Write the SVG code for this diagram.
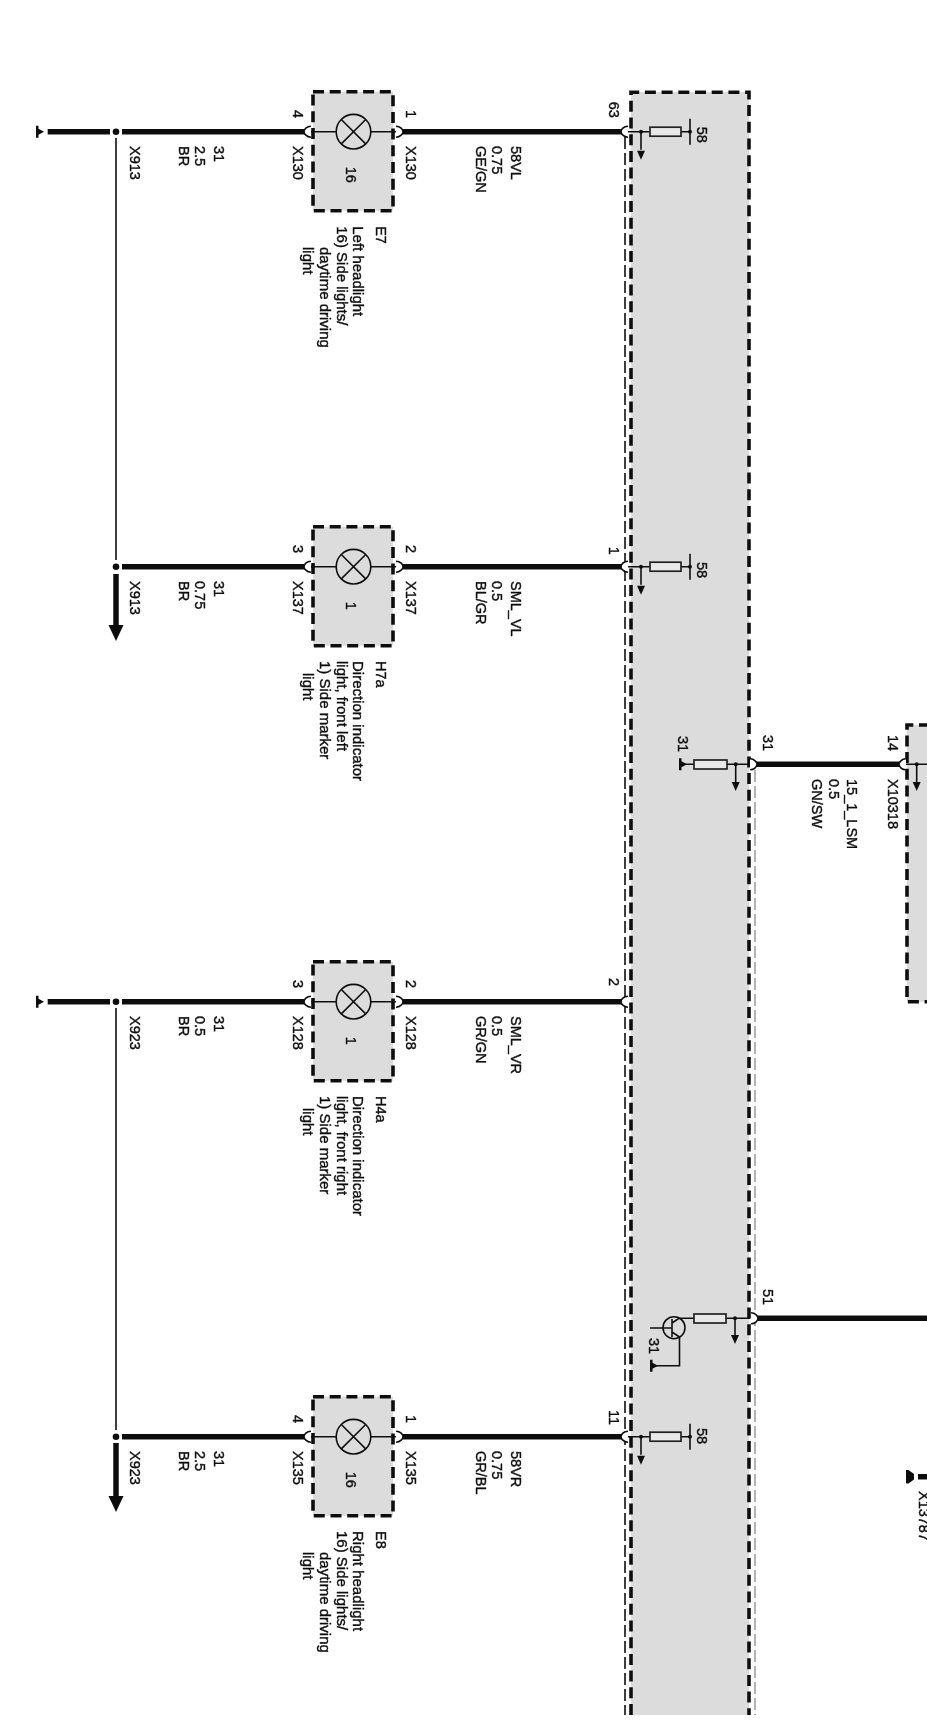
<svg xmlns="http://www.w3.org/2000/svg" xmlns:xlink="http://www.w3.org/1999/xlink" width="927" height="1725" viewBox="0 0 927 1725">
<style>
text{font-family:"Liberation Sans",Arial,sans-serif;font-size:14.5px;fill:#111;stroke:#111;stroke-width:.4px}
.d{font-size:15px}
.box{fill:#dcdcdc;stroke:#111;stroke-width:3.6;stroke-dasharray:11 5.700}
.fill{fill:#dcdcdc;stroke:none}
.bd{fill:none;stroke:#111;stroke-width:3.6;stroke-dasharray:11 5.700}
.t{fill:none;stroke:#111;stroke-width:1.6}
.w{fill:none;stroke:#111;stroke-width:5.5}
.res{fill:#e8e8e8;stroke:#222;stroke-width:1.7}
.k{fill:#111;stroke:none}
.pin{fill:#fff;stroke:#111;stroke-width:1.6}
.soft{filter:url(#b)}
</style>
<defs>
<filter id="b" x="0" y="0" width="927" height="1725" filterUnits="userSpaceOnUse"><feGaussianBlur stdDeviation="0.6"/></filter>
<path id="pinL" class="pin" d="M7 -5.5C2.500 -5.500 0 -2 0 0C0 2 2.500 5.500 7 5.500"/>
<path id="pinR" class="pin" d="M0 -5.500C4.500 -5.500 7 -2 7 0C7 2 4.500 5.500 0 5.500"/>
<path id="tip" class="k" d="M-4 -8H4L0 1Z"/>
<path id="term" class="k" d="M0 -6H2.500V-3L8 0L2.500 3V6H0Z"/>
<g id="lamp">
<rect class="box" x="313" y="-40" width="80" height="119"/>
<path class="t" d="M311 0H336M371 0H398"/>
<circle class="t" cx="353.500" cy="0" r="17.300"/>
<path class="t" d="M341.300 -12.200L365.700 12.200M365.700 -12.200L341.300 12.200"/>
</g>
<g id="fuse">
<path class="t" d="M625 0H650M681 0H690M641 0V18M690 -13V13"/>
<circle class="k" cx="641" cy="0" r="2"/>
<circle class="k" cx="690" cy="0" r="2"/>
<rect class="res" x="650" y="-4.500" width="31" height="9"/>
<use href="#tip" x="641" y="27"/>
</g>
</defs>
<rect width="927" height="1725" fill="#fff"/>
<g class="soft">
<g id="module-main">
<rect class="fill" x="631" y="92" width="118" height="1623"/>
<path class="bd" d="M631 1715V92.300H749V1715"/>
<path class="t" d="M625 137V1715" stroke-dasharray="12 4"/>
<path d="M755 770V1715" fill="none" stroke="#aaa" stroke-width="1.800" stroke-dasharray="12 4"/>
<use href="#fuse" y="131.700"/>
<text transform="translate(697,126.700) rotate(90)">58</text>
<use href="#fuse" y="566.700"/>
<text transform="translate(697,562) rotate(90)">58</text>
<use href="#fuse" y="1436.700"/>
<text transform="translate(697,1428) rotate(90)">58</text>
<path class="t" d="M750 764.300H727M694 764.300H684M735.700 764.300V782"/>
<circle class="k" cx="735.700" cy="764.300" r="2"/>
<rect class="res" x="694" y="760" width="33" height="9"/>
<use href="#tip" x="735.700" y="790"/>
<use href="#term" x="679" y="764.300"/>
<text transform="translate(677.700,736) rotate(90)">31</text>
<path class="t" d="M750 1318.300H726M694 1318.300H679L672 1323M672 1319V1337M650 1328H672M672 1332L679.500 1337V1365.700H656"/>
<circle class="k" cx="735" cy="1318.300" r="2"/>
<path class="t" d="M735 1318.300V1335"/>
<rect class="res" x="694" y="1314" width="32" height="9"/>
<use href="#tip" x="735" y="1343"/>
<circle class="t" cx="674" cy="1327.700" r="11"/>
<use href="#term" x="650" y="1365.700"/>
<text transform="translate(649.300,1338) rotate(90)">31</text>
</g>
<g id="module-right">
<rect class="fill" x="907" y="725" width="20" height="277"/>
<path class="bd" d="M930 725H907V1001.700H930"/>
<path class="t" d="M906 764.300H927M916.700 764.300V782"/>
<circle class="k" cx="916.700" cy="764.300" r="2"/>
<use href="#tip" x="916.700" y="790"/>
</g>
<g id="node-E7">
<use href="#lamp" y="131.700"/>
<g transform="translate(1,0)">
<text transform="translate(345,166.700) rotate(90)">16</text>
<text transform="translate(292,110) rotate(90)">4</text>
<text transform="translate(405,110) rotate(90)">1</text>
<text transform="translate(292,146) rotate(90)">X130</text>
<text transform="translate(405,146) rotate(90)">X130</text>
<text transform="translate(375,226.200) rotate(90)">E7</text>
<text class="d" transform="translate(352,226.200) rotate(90)">Left headlight</text>
<text class="d" transform="translate(335.500,226.200) rotate(90)">16) Side lights/</text>
<text class="d" transform="translate(318.500,247) rotate(90)">daytime driving</text>
<text class="d" transform="translate(302,247) rotate(90)">light</text>
</g>
</g>
<g id="node-H7a">
<use href="#lamp" y="566.700"/>
<g transform="translate(1,0)">
<text transform="translate(345,601.700) rotate(90)">1</text>
<text transform="translate(292,545) rotate(90)">3</text>
<text transform="translate(405,545) rotate(90)">2</text>
<text transform="translate(292,581) rotate(90)">X137</text>
<text transform="translate(405,581) rotate(90)">X137</text>
<text transform="translate(375,661) rotate(90)">H7a</text>
<text class="d" transform="translate(352,661) rotate(90)">Direction indicator</text>
<text class="d" transform="translate(335.500,661) rotate(90)">light, front left</text>
<text class="d" transform="translate(318.500,661) rotate(90)">1) Side marker</text>
<text class="d" transform="translate(302,673) rotate(90)">light</text>
</g>
</g>
<g id="node-H4a">
<use href="#lamp" y="1001.700"/>
<g transform="translate(1,0)">
<text transform="translate(345,1036.700) rotate(90)">1</text>
<text transform="translate(292,980) rotate(90)">3</text>
<text transform="translate(405,980) rotate(90)">2</text>
<text transform="translate(292,1016) rotate(90)">X128</text>
<text transform="translate(405,1016) rotate(90)">X128</text>
<text transform="translate(375,1096) rotate(90)">H4a</text>
<text class="d" transform="translate(352,1096) rotate(90)">Direction indicator</text>
<text class="d" transform="translate(335.500,1096) rotate(90)">light, front right</text>
<text class="d" transform="translate(318.500,1096) rotate(90)">1) Side marker</text>
<text class="d" transform="translate(302,1108) rotate(90)">light</text>
</g>
</g>
<g id="node-E8">
<use href="#lamp" y="1436.700"/>
<g transform="translate(1,0)">
<text transform="translate(345,1471.700) rotate(90)">16</text>
<text transform="translate(292,1415) rotate(90)">4</text>
<text transform="translate(405,1415) rotate(90)">1</text>
<text transform="translate(292,1451) rotate(90)">X135</text>
<text transform="translate(405,1451) rotate(90)">X135</text>
<text transform="translate(375,1531) rotate(90)">E8</text>
<text class="d" transform="translate(352,1531) rotate(90)">Right headlight</text>
<text class="d" transform="translate(335.500,1531) rotate(90)">16) Side lights/</text>
<text class="d" transform="translate(318.500,1552) rotate(90)">daytime driving</text>
<text class="d" transform="translate(302,1552) rotate(90)">light</text>
</g>
</g>
<g id="connectors">
<path class="w" d="M47.700 131.700H110M122 131.700H306M403 131.700H623"/>
<path class="t" d="M116 138V560" stroke-width="1.800"/>
<path class="w" d="M122 566.700H306M403 566.700H623M116 574V626"/>
<path class="k" d="M108.500 625H123.500L116 641Z"/>
<path class="w" d="M47.700 1001.700H110M122 1001.700H306M403 1001.700H623" stroke-width="5"/>
<path class="t" d="M116 1008V1430" stroke-width="1.800"/>
<path class="w" d="M122 1436.700H306M403 1436.700H623M116 1443V1497"/>
<path class="k" d="M108.500 1496H123.500L116 1512Z"/>
<path class="w" d="M756 764.300H900M756 1318.300H927M918 1476.700H927"/>
<circle class="k" cx="116" cy="131.700" r="3.300"/>
<circle class="k" cx="116" cy="566.700" r="3.300"/>
<circle class="k" cx="116" cy="1001.700" r="3.300"/>
<circle class="k" cx="116" cy="1436.700" r="3.300"/>
<use href="#term" x="36" y="131.700"/>
<use href="#term" x="36" y="1001.700"/>
<path class="k" d="M906 1470H908.500L914 1474V1479.500L908.500 1483.500H906Z"/>
<use href="#pinL" x="304" y="131.700"/><use href="#pinR" x="396" y="131.700"/><use href="#pinL" x="621" y="131.700"/>
<use href="#pinL" x="304" y="566.700"/><use href="#pinR" x="396" y="566.700"/><use href="#pinL" x="621" y="566.700"/>
<use href="#pinL" x="304" y="1001.700"/><use href="#pinR" x="396" y="1001.700"/><use href="#pinL" x="621" y="1001.700"/>
<use href="#pinL" x="304" y="1436.700"/><use href="#pinR" x="396" y="1436.700"/><use href="#pinL" x="621" y="1436.700"/>
<use href="#pinR" x="750" y="764.300"/><use href="#pinL" x="899" y="764.300"/><use href="#pinR" x="751" y="1318.300"/>
</g>
<g id="wire-labels" transform="translate(1,0)">
<text transform="translate(129,146) rotate(90)">X913</text>
<text transform="translate(213,146) rotate(90)">31</text>
<text transform="translate(194,146) rotate(90)">2.5</text>
<text transform="translate(178,146) rotate(90)">BR</text>
<text transform="translate(510,146) rotate(90)">58VL</text>
<text transform="translate(491,146) rotate(90)">0.75</text>
<text transform="translate(475,146) rotate(90)">GE/GN</text>
<text transform="translate(608,101.700) rotate(90)">63</text>
<text transform="translate(129,581) rotate(90)">X913</text>
<text transform="translate(213,581) rotate(90)">31</text>
<text transform="translate(194,581) rotate(90)">0.75</text>
<text transform="translate(178,581) rotate(90)">BR</text>
<text transform="translate(510,581) rotate(90)">SML_VL</text>
<text transform="translate(491,581) rotate(90)">0.5</text>
<text transform="translate(475,581) rotate(90)">BL/GR</text>
<text transform="translate(608,546.700) rotate(90)">1</text>
<text transform="translate(129,1016) rotate(90)">X923</text>
<text transform="translate(213,1016) rotate(90)">31</text>
<text transform="translate(194,1016) rotate(90)">0.5</text>
<text transform="translate(178,1016) rotate(90)">BR</text>
<text transform="translate(510,1016) rotate(90)">SML_VR</text>
<text transform="translate(491,1016) rotate(90)">0.5</text>
<text transform="translate(475,1016) rotate(90)">GR/GN</text>
<text transform="translate(608,978) rotate(90)">2</text>
<text transform="translate(129,1451) rotate(90)">X923</text>
<text transform="translate(213,1451) rotate(90)">31</text>
<text transform="translate(194,1451) rotate(90)">2.5</text>
<text transform="translate(178,1451) rotate(90)">BR</text>
<text transform="translate(510,1451) rotate(90)">58VR</text>
<text transform="translate(491,1451) rotate(90)">0.75</text>
<text transform="translate(475,1451) rotate(90)">GR/BL</text>
<text transform="translate(608,1410) rotate(90)">11</text>
<text transform="translate(762,735) rotate(90)">31</text>
<text transform="translate(886.700,735) rotate(90)">14</text>
<text transform="translate(886.700,779) rotate(90)">X10318</text>
<text transform="translate(846,779) rotate(90)">15_1_LSM</text>
<text transform="translate(828,779) rotate(90)">0.5</text>
<text transform="translate(811,779) rotate(90)">GN/SW</text>
<text transform="translate(762,1289) rotate(90)">51</text>
<text transform="translate(918,1491) rotate(90)">X13787</text>
</g>
</g>
</svg>
